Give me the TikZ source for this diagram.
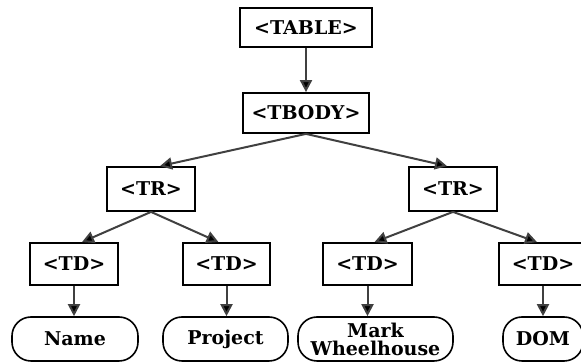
\documentclass[tikz,border=0pt]{standalone}
\usepackage{fontspec}
\setmainfont{DejaVu Serif}
\usetikzlibrary{arrows.meta,calc}
\begin{document}
\begin{tikzpicture}[x=1pt,y=1pt,
  tag/.style={draw=black,line width=1.8pt,fill=white,inner sep=0pt,font=\fontsize{19}{21}\selectfont\bfseries},
  leaf/.style={draw=black,line width=1.6pt,fill=white,rounded corners=19pt,inner sep=0pt,minimum height=44pt,align=center,font=\fontsize{19}{18}\selectfont\bfseries},
  arr/.style={draw=black!75,line width=2pt,-{Triangle[length=12pt,width=12pt,fill=black]}}]
\useasboundingbox (0,0) rectangle (581,363);
\begin{scope}
\clip (0,0) rectangle (581,363);
\node[tag,minimum width=132pt,minimum height=39pt] (table) at (306,335.5) {<TABLE>};
\node[tag,minimum width=126pt,minimum height=40pt] (tbody) at (306,250) {<TBODY>};
\node[tag,minimum width=88pt,minimum height=44pt] (tr1) at (151,174) {<TR>};
\node[tag,minimum width=88pt,minimum height=44pt] (tr2) at (453,174) {<TR>};
\node[tag,minimum width=88pt,minimum height=42pt] (td1) at (74,99) {<TD>};
\node[tag,minimum width=87pt,minimum height=42pt] (td2) at (226.5,99) {<TD>};
\node[tag,minimum width=89pt,minimum height=42pt] (td3) at (367.5,99) {<TD>};
\node[tag,minimum width=88pt,minimum height=42pt] (td4) at (543,99) {<TD>};
\node[leaf,minimum width=126pt] (l1) at (75,24) {Name};
\node[leaf,minimum width=125pt] (l2) at (225.5,24) {Project};
\node[leaf,minimum width=155pt] (l3) at (375.5,24) {Mark\\Wheelhouse};
\node[leaf,minimum width=80pt] (l4) at (543,24) {DOM};
\draw[arr] (table.south) -- (tbody.north);
\draw[arr] (tbody.south) -- ($(tr1.north)+(9,0)$);
\draw[arr] (tbody.south) -- ($(tr2.north)+(-6,0)$);
\draw[arr] (tr1.south) -- ($(td1.north)+(8,0)$);
\draw[arr] (tr1.south) -- ($(td2.north)+(-8,0)$);
\draw[arr] (tr2.south) -- ($(td3.north)+(7,0)$);
\draw[arr] (tr2.south) -- ($(td4.north)+(-6,0)$);
\draw[arr] (td1.south) -- (l1.north -| td1.south);
\draw[arr] (td2.south) -- (l2.north -| td2.south);
\draw[arr] (td3.south) -- (l3.north -| td3.south);
\draw[arr] (td4.south) -- (l4.north);
\end{scope}
\end{tikzpicture}
\end{document}
